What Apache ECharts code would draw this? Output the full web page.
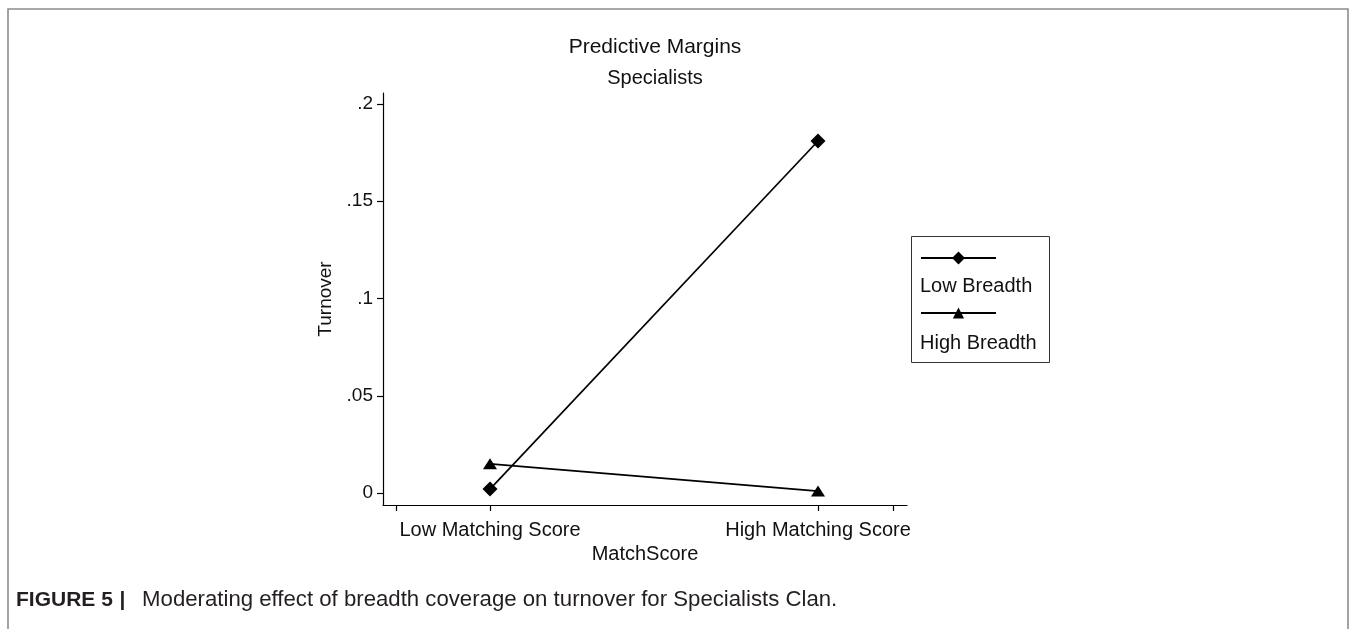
<!DOCTYPE html>
<html>
<head>
<meta charset="utf-8">
<title>Predictive Margins - Specialists</title>
<script src="https://cdn.jsdelivr.net/npm/echarts@6/dist/echarts.min.js"></script>
<style>
  html, body { margin: 0; padding: 0; background: #fff; }
  #chart { width: 1356px; height: 629px; }
</style>
</head>
<body>
<div id="chart"></div>
<script>
// Categories on the x axis, placed at positions 1 and 2 of a value axis
const matchLevels = ['Low Matching Score', 'High Matching Score'];
const matchPositions = [1, 2];

// Predicted turnover for each breadth group
const lowBreadth = [0.002, 0.181];
const highBreadth = [0.015, 0.001];

// Y tick values and their Stata-style labels
const yTicks = [0, 0.05, 0.1, 0.15, 0.2];
const yTickLabels = ['0', '.05', '.1', '.15', '.2'];

const FONT = '"Liberation Sans", Arial, Helvetica, sans-serif';

const chart = echarts.init(document.getElementById('chart'), null, { renderer: 'canvas' });

function pairs(values) {
  return values.map((v, i) => [matchPositions[i], v]);
}

const markerStyle = { color: '#000' };

// One legend per series so each key symbol gets its own size;
// the key text sits under the symbol, drawn as graphic text below.
function keyLegend(name, top, height) {
  return {
    orient: 'vertical',
    left: 920,
    top: top,
    itemWidth: 75,
    itemHeight: height,
    padding: 0,
    selectedMode: false,
    formatter: () => '',
    textStyle: { fontSize: 1 },
    data: [name]
  };
}

chart.setOption({
  animation: false,
  backgroundColor: '#fff',
  title: {
    text: 'Predictive Margins',
    subtext: 'Specialists',
    left: 650,
    top: 32,
    textAlign: 'center',
    itemGap: 10,
    textStyle: { fontFamily: FONT, fontSize: 21, fontWeight: 'normal', color: '#111' },
    subtextStyle: { fontFamily: FONT, fontSize: 20, color: '#111' }
  },
  grid: { left: 383, right: 449, top: 93, bottom: 124 },
  xAxis: {
    type: 'value',
    min: 0.6738,
    max: 2.2713,
    name: 'MatchScore',
    nameLocation: 'middle',
    nameGap: 34,
    nameTextStyle: { fontFamily: FONT, fontSize: 20, color: '#111' },
    splitLine: { show: false },
    axisLine: { show: true, onZero: false, lineStyle: { color: '#000', width: 1.2 } },
    axisTick: {
      show: true, length: 6, inside: false,
      customValues: [0.7134, 1, 2, 2.2287],
      lineStyle: { color: '#000', width: 1.2 }
    },
    axisLabel: {
      show: true,
      customValues: matchPositions,
      margin: 15,
      fontFamily: FONT, fontSize: 20, color: '#111',
      formatter: v => matchLevels[matchPositions.indexOf(Math.round(v))] || ''
    }
  },
  yAxis: {
    type: 'value',
    min: -0.00617,
    max: 0.20566,
    name: 'Turnover',
    nameLocation: 'middle',
    nameRotate: 90,
    nameGap: 48,
    nameTextStyle: { fontFamily: FONT, fontSize: 19, color: '#111' },
    splitLine: { show: false },
    axisLine: { show: true, onZero: false, lineStyle: { color: '#000', width: 1.2 } },
    axisTick: {
      show: true, length: 6, inside: false,
      customValues: yTicks,
      lineStyle: { color: '#000', width: 1.2 }
    },
    axisLabel: {
      show: true,
      customValues: yTicks,
      margin: 10,
      fontFamily: FONT, fontSize: 19, color: '#111',
      formatter: v => {
        const i = yTicks.findIndex(t => Math.abs(t - v) < 1e-9);
        return i >= 0 ? yTickLabels[i] : '';
      }
    }
  },
  legend: [
    keyLegend('Low Breadth', 250, 16),
    keyLegend('High Breadth', 306, 14)
  ],
  series: [
    {
      name: 'Low Breadth',
      type: 'line',
      data: pairs(lowBreadth),
      symbol: 'diamond',
      symbolSize: 15,
      showAllSymbol: true,
      lineStyle: { color: '#000', width: 1.7 },
      itemStyle: markerStyle,
      z: 3
    },
    {
      name: 'High Breadth',
      type: 'line',
      data: pairs(highBreadth),
      symbol: 'triangle',
      symbolSize: [14, 11],
      showAllSymbol: true,
      lineStyle: { color: '#000', width: 1.7 },
      itemStyle: markerStyle,
      z: 2
    }
  ],
  graphic: [
    // figure frame (open at the bottom)
    {
      type: 'polyline',
      silent: true,
      shape: { points: [[8, 629], [8, 9], [1348, 9], [1348, 629]] },
      style: { stroke: '#8c8c8c', lineWidth: 1.6, fill: null }
    },
    // legend box
    {
      type: 'rect',
      silent: true,
      shape: { x: 911.5, y: 236.5, width: 138, height: 126 },
      style: { stroke: '#333', lineWidth: 1, fill: 'none' },
      z: 1
    },
    {
      type: 'text',
      silent: true,
      left: 920,
      top: 276,
      style: { text: 'Low Breadth', font: '20px ' + FONT, fill: '#111' }
    },
    {
      type: 'text',
      silent: true,
      left: 920,
      top: 333,
      style: { text: 'High Breadth', font: '20px ' + FONT, fill: '#111' }
    },
    // caption
    {
      type: 'text',
      silent: true,
      left: 16,
      top: 589,
      style: {
        text: '{b|FIGURE 5}  {b||}     {r|Moderating effect of breadth coverage on turnover for Specialists Clan.}',
        rich: {
          b: { fontFamily: FONT, fontSize: 21, fontWeight: 'bold', fill: '#231f20' },
          r: { fontFamily: FONT, fontSize: 22.2, fill: '#231f20' }
        }
      }
    }
  ]
});
</script>
</body>
</html>
